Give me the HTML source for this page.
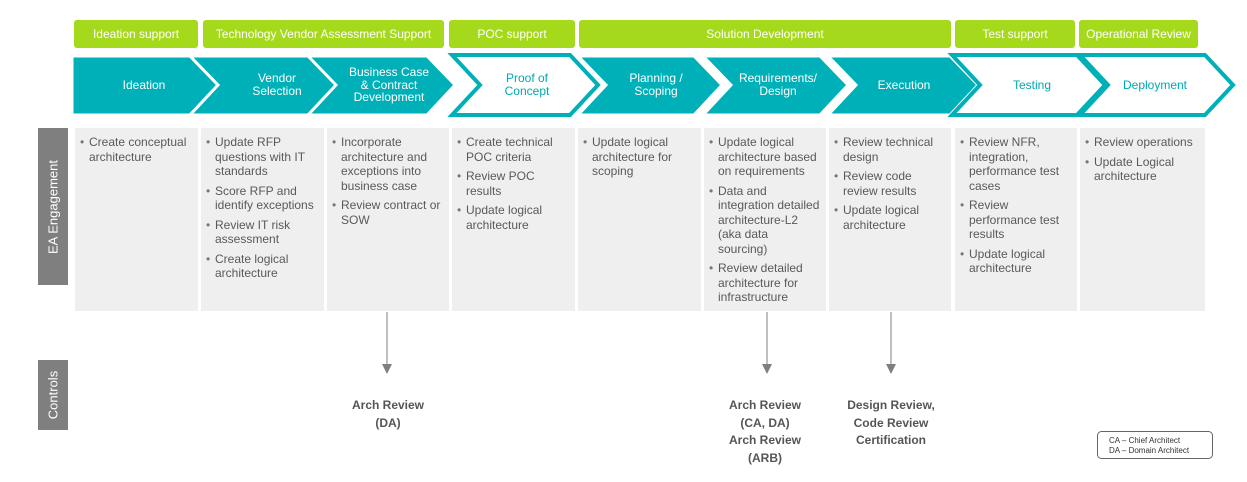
<!DOCTYPE html>
<html><head><meta charset="utf-8"><style>
body{margin:0;background:#fff;width:1247px;height:482px;position:relative;overflow:hidden;font-family:"Liberation Sans",Arial,sans-serif}
.g{position:absolute;top:20px;height:28px;background:#a5d91b;border-radius:3px;color:#fff;font-size:12px;line-height:28px;text-align:center}
.c{position:absolute;top:128px;height:183px;background:#efefef;font-size:12px;color:#595959;line-height:14.5px}
.c ul{margin:0;padding:7px 4px 0 14px;list-style:none}
.c li{position:relative;margin-bottom:5px}
.c li:before{content:"•";position:absolute;left:-9px;color:#777}
.side{position:absolute;left:38px;width:30px;background:#7f7f7f;color:#fff;font-size:13px}
.side span{position:absolute;left:50%;top:50%;transform:translate(-50%,-50%) rotate(-90deg);white-space:nowrap}
.lab{position:absolute;font-size:12px;font-weight:bold;color:#555;text-align:center;line-height:17.5px}
</style></head><body>
<div class="g" style="left:74px;width:124px">Ideation support</div>
<div class="g" style="left:203px;width:241px">Technology Vendor Assessment Support</div>
<div class="g" style="left:449px;width:126px">POC support</div>
<div class="g" style="left:579px;width:372px">Solution Development</div>
<div class="g" style="left:955px;width:120px">Test support</div>
<div class="g" style="left:1079px;width:119px">Operational Review</div>
<svg style="position:absolute;left:0;top:0" width="1247" height="482" font-family="Liberation Sans,Arial,sans-serif" font-size="12" text-anchor="middle">
<g stroke="#fff" stroke-width="3" fill="#00b0b9">
<polygon points="72,56 190,56 218,85 190,115 72,115"/>
<polygon points="190,56 310,56 338,85 310,115 190,115 218,85"/>
<polygon points="308,56 427,56 455,85 427,115 308,115 336,85"/>
<polygon points="578,56 694,56 722,85 694,115 578,115 606,85"/>
<polygon points="703,56 820,56 848,85 820,115 703,115 731,85"/>
<polygon points="828,56 950,56 978,85 950,115 828,115 856,85"/>
</g>
<g stroke="#00b0b9" stroke-width="4" fill="#fff">
<polygon points="452,55 570,55 598,85 570,115 452,115 480,85"/>
<polygon points="952,55 1077,55 1105,85 1077,115 952,115 980,85"/>
<polygon points="1080,55 1205,55 1233,85 1205,115 1080,115 1108,85"/>
</g>
<g fill="#fff">
<text x="144" y="89">Ideation</text>
<text x="277" y="82">Vendor</text><text x="277" y="95">Selection</text>
<text x="389" y="76">Business Case</text><text x="389" y="89">&amp; Contract</text><text x="389" y="101">Development</text>
<text x="656" y="82">Planning /</text><text x="656" y="95">Scoping</text>
<text x="778" y="82">Requirements/</text><text x="778" y="95">Design</text>
<text x="904" y="89">Execution</text>
</g>
<g fill="#00a8b2">
<text x="527" y="82">Proof of</text><text x="527" y="95">Concept</text>
<text x="1032" y="89">Testing</text>
<text x="1155" y="89">Deployment</text>
</g>
<g stroke="#7f7f7f" stroke-width="1"><line x1="387" y1="312" x2="387" y2="366"/><line x1="767" y1="312" x2="767" y2="366"/><line x1="891" y1="312" x2="891" y2="366"/></g>
<g fill="#7f7f7f"><polygon points="382,364 392,364 387,374"/><polygon points="762,364 772,364 767,374"/><polygon points="886,364 896,364 891,374"/></g>
<rect x="1097.5" y="431.5" width="115" height="27" rx="4" fill="#fff" stroke="#666"/>
<text x="1109" y="443" font-size="8" fill="#333" text-anchor="start">CA – Chief Architect</text>
<text x="1109" y="453" font-size="8" fill="#333" text-anchor="start">DA – Domain Architect</text>
</svg>
<div class="side" style="top:128px;height:157px"><span>EA Engagement</span></div>
<div class="side" style="top:360px;height:70px"><span>Controls</span></div>
<div class="c" style="left:75px;width:123px"><ul><li>Create conceptual architecture</li></ul></div>
<div class="c" style="left:201px;width:123px"><ul><li>Update RFP questions with IT standards</li><li>Score RFP and identify exceptions</li><li>Review IT risk assessment</li><li>Create logical architecture</li></ul></div>
<div class="c" style="left:327px;width:122px"><ul><li>Incorporate architecture and exceptions into business case</li><li>Review contract or SOW</li></ul></div>
<div class="c" style="left:452px;width:123px"><ul><li>Create technical POC criteria</li><li>Review POC results</li><li>Update logical architecture</li></ul></div>
<div class="c" style="left:578px;width:123px"><ul><li>Update logical architecture for scoping</li></ul></div>
<div class="c" style="left:704px;width:122px"><ul><li>Update logical architecture based on requirements</li><li>Data and<br>integration detailed<br>architecture-L2<br>(aka data<br>sourcing)</li><li>Review detailed architecture for infrastructure</li></ul></div>
<div class="c" style="left:829px;width:122px"><ul><li>Review technical design</li><li>Review code review results</li><li>Update logical architecture</li></ul></div>
<div class="c" style="left:955px;width:122px"><ul><li>Review NFR, integration, performance test cases</li><li>Review performance test results</li><li>Update logical architecture</li></ul></div>
<div class="c" style="left:1080px;width:125px"><ul><li>Review operations</li><li>Update Logical architecture</li></ul></div>
<div class="lab" style="left:327px;width:122px;top:397px">Arch Review<br>(DA)</div>
<div class="lab" style="left:704px;width:122px;top:397px">Arch Review<br>(CA, DA)<br>Arch Review<br>(ARB)</div>
<div class="lab" style="left:829px;width:124px;top:397px">Design Review,<br>Code Review<br>Certification</div>
</body></html>
